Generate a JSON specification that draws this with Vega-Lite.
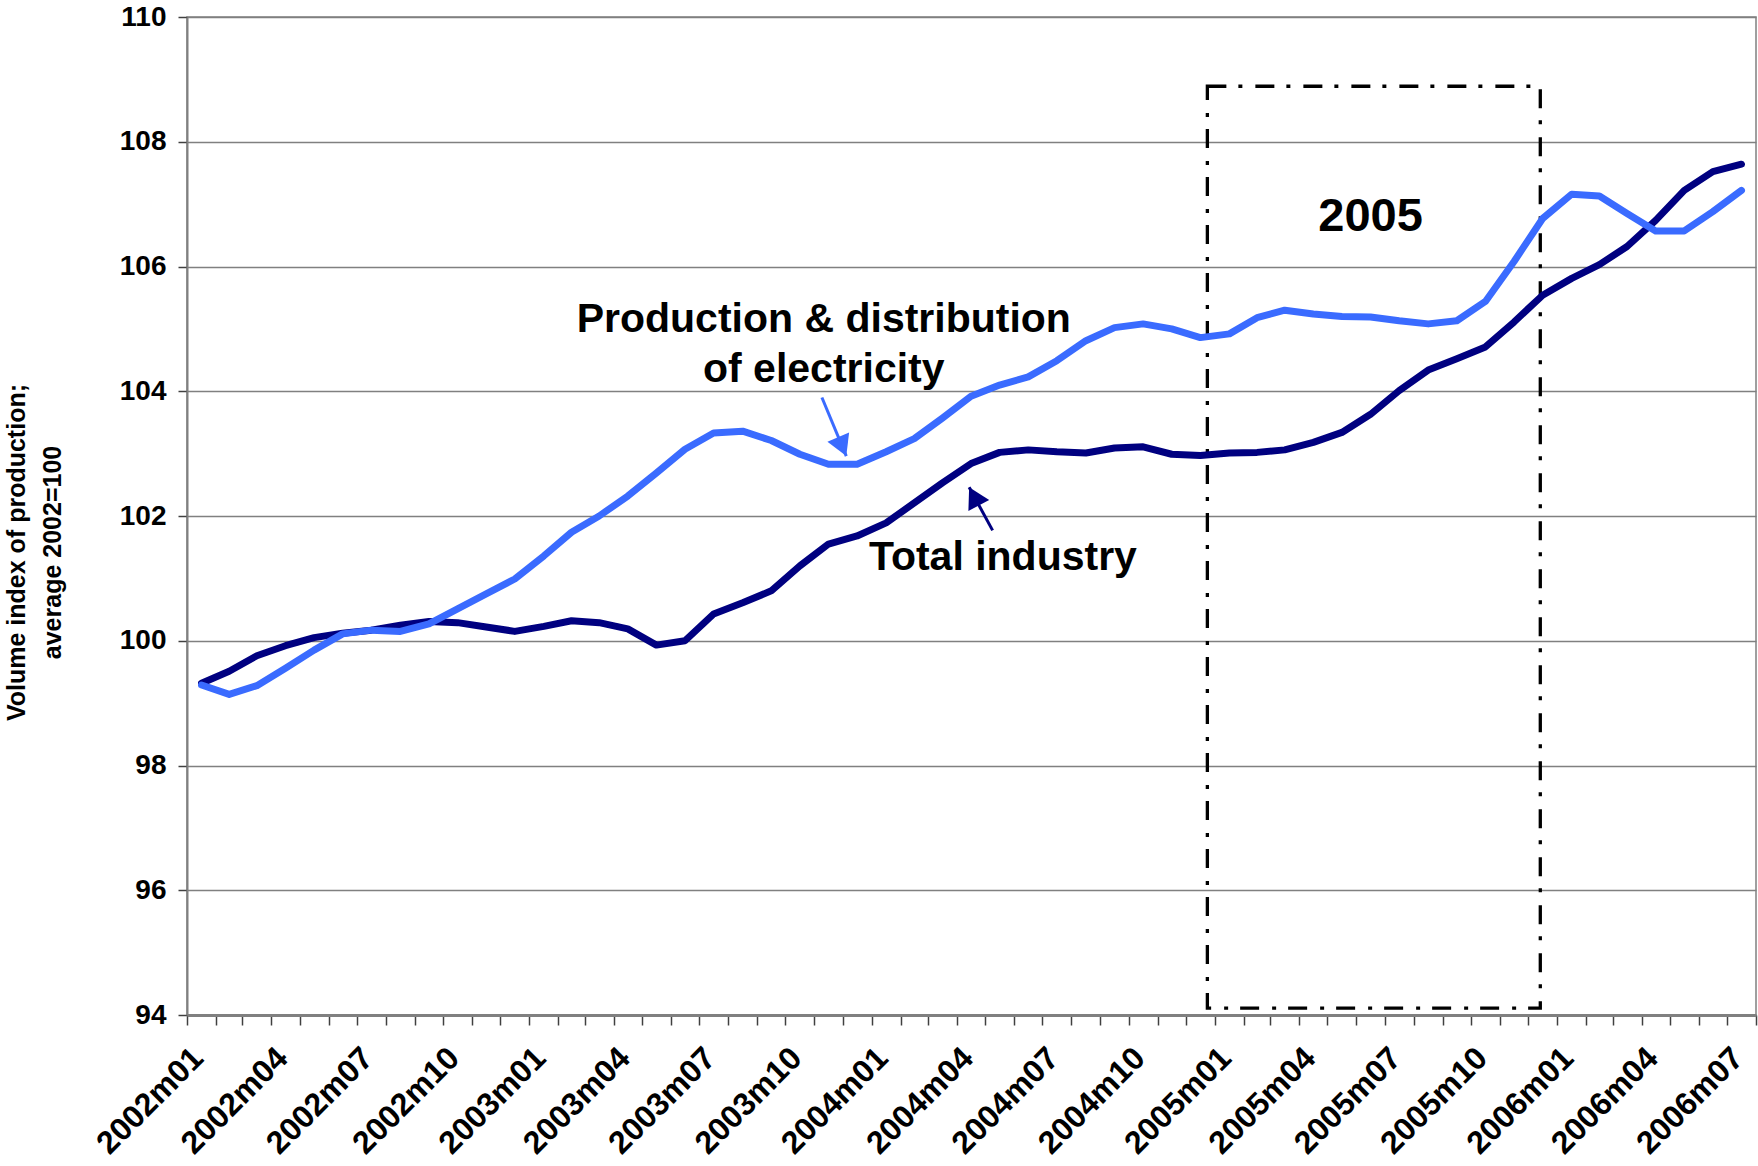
{
  "$schema": "https://vega.github.io/schema/vega-lite/v6.json",
  "width": 1569,
  "height": 998,
  "autosize": {"type": "none"},
  "padding": {"left": 187, "top": 17, "right": 2, "bottom": 151},
  "background": "white",
  "config": {
    "view": {"stroke": "#808080", "strokeWidth": 1.5},
    "font": "Liberation Sans"
  },
  "datasets": {
    "series": [
      {"month": "2002-01", "total": 99.32, "elec": 99.29},
      {"month": "2002-02", "total": 99.51, "elec": 99.14},
      {"month": "2002-03", "total": 99.76, "elec": 99.28},
      {"month": "2002-04", "total": 99.92, "elec": 99.56},
      {"month": "2002-05", "total": 100.05, "elec": 99.85},
      {"month": "2002-06", "total": 100.12, "elec": 100.11},
      {"month": "2002-07", "total": 100.17, "elec": 100.17},
      {"month": "2002-08", "total": 100.25, "elec": 100.15},
      {"month": "2002-09", "total": 100.31, "elec": 100.27},
      {"month": "2002-10", "total": 100.29, "elec": 100.51},
      {"month": "2002-11", "total": 100.22, "elec": 100.75},
      {"month": "2002-12", "total": 100.15, "elec": 100.99},
      {"month": "2003-01", "total": 100.23, "elec": 101.36},
      {"month": "2003-02", "total": 100.32, "elec": 101.74},
      {"month": "2003-03", "total": 100.29, "elec": 102.0},
      {"month": "2003-04", "total": 100.19, "elec": 102.32},
      {"month": "2003-05", "total": 99.93, "elec": 102.69},
      {"month": "2003-06", "total": 100.0, "elec": 103.07},
      {"month": "2003-07", "total": 100.43, "elec": 103.33},
      {"month": "2003-08", "total": 100.61, "elec": 103.36},
      {"month": "2003-09", "total": 100.8, "elec": 103.21},
      {"month": "2003-10", "total": 101.2, "elec": 102.99},
      {"month": "2003-11", "total": 101.55, "elec": 102.83},
      {"month": "2003-12", "total": 101.68, "elec": 102.83},
      {"month": "2004-01", "total": 101.89, "elec": 103.03},
      {"month": "2004-02", "total": 102.21, "elec": 103.24},
      {"month": "2004-03", "total": 102.53, "elec": 103.57},
      {"month": "2004-04", "total": 102.84, "elec": 103.92},
      {"month": "2004-05", "total": 103.02, "elec": 104.1},
      {"month": "2004-06", "total": 103.06, "elec": 104.23},
      {"month": "2004-07", "total": 103.03, "elec": 104.49},
      {"month": "2004-08", "total": 103.01, "elec": 104.81},
      {"month": "2004-09", "total": 103.09, "elec": 105.02},
      {"month": "2004-10", "total": 103.11, "elec": 105.08},
      {"month": "2004-11", "total": 102.99, "elec": 105.0},
      {"month": "2004-12", "total": 102.97, "elec": 104.86},
      {"month": "2005-01", "total": 103.01, "elec": 104.92},
      {"month": "2005-02", "total": 103.02, "elec": 105.18},
      {"month": "2005-03", "total": 103.06, "elec": 105.3},
      {"month": "2005-04", "total": 103.18, "elec": 105.24},
      {"month": "2005-05", "total": 103.34, "elec": 105.2},
      {"month": "2005-06", "total": 103.63, "elec": 105.19},
      {"month": "2005-07", "total": 104.01, "elec": 105.13},
      {"month": "2005-08", "total": 104.34, "elec": 105.08},
      {"month": "2005-09", "total": 104.52, "elec": 105.13},
      {"month": "2005-10", "total": 104.71, "elec": 105.44},
      {"month": "2005-11", "total": 105.11, "elec": 106.08},
      {"month": "2005-12", "total": 105.54, "elec": 106.77},
      {"month": "2006-01", "total": 105.81, "elec": 107.16},
      {"month": "2006-02", "total": 106.03, "elec": 107.13},
      {"month": "2006-03", "total": 106.32, "elec": 106.85},
      {"month": "2006-04", "total": 106.74, "elec": 106.57},
      {"month": "2006-05", "total": 107.22, "elec": 106.57},
      {"month": "2006-06", "total": 107.52, "elec": 106.88},
      {"month": "2006-07", "total": 107.64, "elec": 107.22}
    ],
    "notes": [
      {"date": "2003-11-11", "value": 104.95, "text": "Production & distribution"},
      {"date": "2003-11-11", "value": 104.15, "text": "of electricity"},
      {"date": "2004-05-20", "value": 101.13, "text": "Total industry"}
    ],
    "arrows": [
      {"x1": "2003-11-09", "y1": 103.9, "x2": "2003-12-05", "y2": 102.96, "target": "Production & distribution of electricity"},
      {"x1": "2004-05-09", "y1": 101.77, "x2": "2004-04-14", "y2": 102.46, "target": "Total industry"}
    ]
  },
  "layer": [
    {
      "data": {"values": [{"start": "2004-12-24", "end": "2005-12-14", "low": 94.11, "high": 108.89}]},
      "mark": {"type": "rect", "filled": false, "stroke": "black", "strokeWidth": 3.3, "strokeDash": [19, 12, 4, 13]},
      "encoding": {
        "x": {"field": "start", "type": "temporal", "scale": {"type": "utc"}},
        "x2": {"field": "end"},
        "y": {"field": "low", "type": "quantitative"},
        "y2": {"field": "high"}
      }
    },
    {
      "data": {"name": "series"},
      "mark": {"type": "line", "color": "#000080", "strokeWidth": 7, "strokeJoin": "round", "strokeCap": "round"},
      "encoding": {
        "x": {
          "field": "month", "type": "temporal", "timeUnit": "utcyearmonth", "bandPosition": 0.5,
          "title": null,
          "scale": {"type": "utc", "domain": [{"year": 2002, "month": 1, "date": 1, "utc": true}, {"year": 2006, "month": 8, "date": 1, "utc": true}]},
          "axis": {
            "title": null,
            "tickCount": {"interval": "month", "step": 1},
            "labelExpr": "utcmonth(datum.value) % 3 == 0 ? utcFormat(datum.value, '%Ym%m') : ''",
            "labelAngle": -45, "labelAlign": "right", "labelBaseline": "top",
            "labelFontSize": 32, "labelFontWeight": "bold", "labelColor": "black",
            "labelPadding": 17, "labelOverlap": false, "labelFlush": false,
            "tickSize": 10, "tickColor": "#404040", "tickWidth": 1.5,
            "domainColor": "#808080", "domainWidth": 3, "grid": false
          }
        },
        "y": {
          "field": "total", "type": "quantitative",
          "title": ["Volume index of production;", "average 2002=100"],
          "scale": {"domain": [94, 110], "nice": false, "zero": false},
          "axis": {
            "values": [94, 96, 98, 100, 102, 104, 106, 108, 110],
            "format": "d",
            "titleFontSize": 25, "titleFontWeight": "bold", "titleColor": "black", "titleLineHeight": 36,
            "titleX": -171, "titleY": 535, "titleAngle": -90, "titleAlign": "center", "titleBaseline": "middle",
            "labelFontSize": 28, "labelFontWeight": "bold", "labelColor": "black", "labelPadding": 12,
            "tickSize": 9, "tickColor": "#404040", "tickWidth": 1.5,
            "domainColor": "#808080", "domainWidth": 2,
            "grid": true, "gridColor": "#808080", "gridWidth": 1.5
          }
        }
      }
    },
    {
      "data": {"name": "series"},
      "mark": {"type": "line", "color": "#3A6BFF", "strokeWidth": 7, "strokeJoin": "round", "strokeCap": "round"},
      "encoding": {
        "x": {"field": "month", "type": "temporal", "timeUnit": "utcyearmonth", "bandPosition": 0.5, "scale": {"type": "utc"}},
        "y": {"field": "elec", "type": "quantitative"}
      }
    },
    {
      "data": {"name": "arrows"},
      "mark": {"type": "rule", "strokeWidth": 3},
      "encoding": {
        "x": {"field": "x1", "type": "temporal", "scale": {"type": "utc"}},
        "x2": {"field": "x2"},
        "y": {"field": "y1", "type": "quantitative"},
        "y2": {"field": "y2"},
        "color": {"field": "target", "type": "nominal", "scale": {"domain": ["Production & distribution of electricity", "Total industry"], "range": ["#3A6BFF", "#000080"]}, "legend": null}
      }
    },
    {
      "data": {"values": [{"date": "2003-12-05", "value": 102.96}]},
      "mark": {"type": "point", "shape": "M0,0L0.86,1.5L-0.86,1.5Z", "filled": true, "opacity": 1, "size": 750, "angle": 157, "color": "#3A6BFF", "strokeWidth": 0},
      "encoding": {
        "x": {"field": "date", "type": "temporal", "scale": {"type": "utc"}},
        "y": {"field": "value", "type": "quantitative"}
      }
    },
    {
      "data": {"values": [{"date": "2004-04-14", "value": 102.46}]},
      "mark": {"type": "point", "shape": "M0,0L0.86,1.5L-0.86,1.5Z", "filled": true, "opacity": 1, "size": 750, "angle": 332, "color": "#000080", "strokeWidth": 0},
      "encoding": {
        "x": {"field": "date", "type": "temporal", "scale": {"type": "utc"}},
        "y": {"field": "value", "type": "quantitative"}
      }
    },
    {
      "data": {"name": "notes"},
      "mark": {"type": "text", "font": "Liberation Sans", "fontWeight": "bold", "fontSize": 41, "align": "center", "baseline": "alphabetic", "color": "black"},
      "encoding": {
        "x": {"field": "date", "type": "temporal", "scale": {"type": "utc"}},
        "y": {"field": "value", "type": "quantitative"},
        "text": {"field": "text"}
      }
    },
    {
      "data": {"values": [{"date": "2005-06-16", "value": 106.57, "text": "2005"}]},
      "mark": {"type": "text", "font": "Liberation Sans", "fontWeight": "bold", "fontSize": 47, "align": "center", "baseline": "alphabetic", "color": "black"},
      "encoding": {
        "x": {"field": "date", "type": "temporal", "scale": {"type": "utc"}},
        "y": {"field": "value", "type": "quantitative"},
        "text": {"field": "text"}
      }
    }
  ]
}
